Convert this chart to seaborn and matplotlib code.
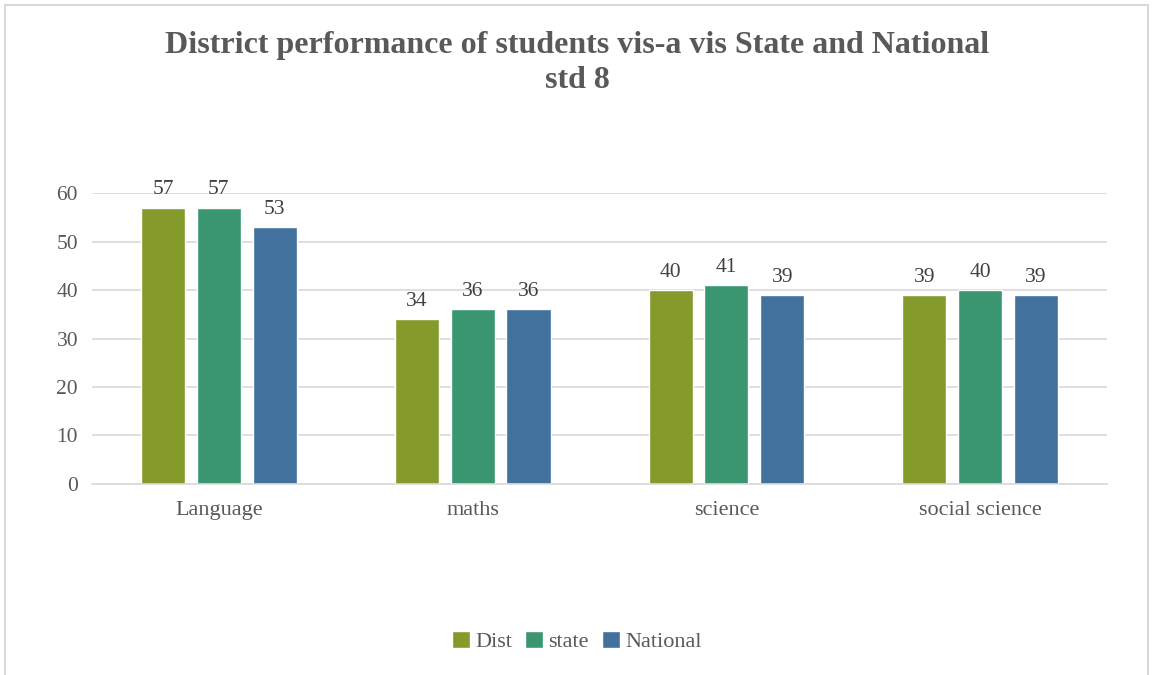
import pandas as pd
import matplotlib.pyplot as plt
import seaborn as sns
from matplotlib.patches import Rectangle

# chart values
subjects = ["Language", "maths", "science", "social science"]
series = ["Dist", "state", "National"]
dist = [57, 34, 40, 39]
state = [57, 36, 41, 40]
national = [53, 36, 39, 39]
colors = ["#849A2B", "#3A9670", "#43719E"]

df = pd.DataFrame({"subject": subjects * 3,
                   "group": [s for s in series for _ in subjects],
                   "score": dist + state + national})

sns.set_theme(style="white")
plt.rcParams['font.family'] = ['Liberation Serif', 'DejaVu Serif']

fig = plt.figure(figsize=(11.54, 6.75), dpi=100)
ax = fig.add_axes([0.0797, 0.283, 0.8796, 0.431])

sns.barplot(data=df, x="subject", y="score", hue="group", palette=colors,
            width=0.66, gap=0.21, ax=ax, errorbar=None, saturation=1)

for c in ax.containers:
    ax.bar_label(c, padding=6, fontsize=15.5, color="#404040")

ax.set_ylim(0, 60)
ax.set_yticks(range(0, 61, 10))
ax.set_xlim(-0.5, 3.5)
ax.yaxis.grid(True, color="#d9d9d9", linewidth=1.2)
ax.set_axisbelow(True)
for s in ["top", "right", "left"]:
    ax.spines[s].set_visible(False)
ax.spines["bottom"].set_color("#d9d9d9")
ax.spines["bottom"].set_linewidth(1.2)
ax.set_xlabel("")
ax.set_ylabel("")
ax.tick_params(axis="y", length=0, labelsize=15.5, labelcolor="#595959", pad=10)
ax.tick_params(axis="x", length=0, labelsize=16, labelcolor="#595959", pad=12)

ax.legend(loc="center", bbox_to_anchor=(0.5, 0.05), bbox_transform=fig.transFigure,
          ncol=3, frameon=False, fontsize=16, handlelength=0.8, handleheight=0.8,
          handletextpad=0.25, columnspacing=0.6, labelcolor="#595959")

fig.text(0.5, 1 - 45 / 675, "District performance of students vis-a vis State and National",
         ha="center", va="center", fontsize=23, fontweight="bold", color="#595959")
fig.text(0.5, 1 - 80 / 675, "std 8",
         ha="center", va="center", fontsize=23, fontweight="bold", color="#595959")

fig.patches.append(Rectangle((5 / 1154, -0.01), 1143 / 1154, 1 - 5 / 675 + 0.01,
                             transform=fig.transFigure, fill=False,
                             edgecolor="#d9d9d9", linewidth=1.5))

fig.savefig("out.png", dpi=100)
